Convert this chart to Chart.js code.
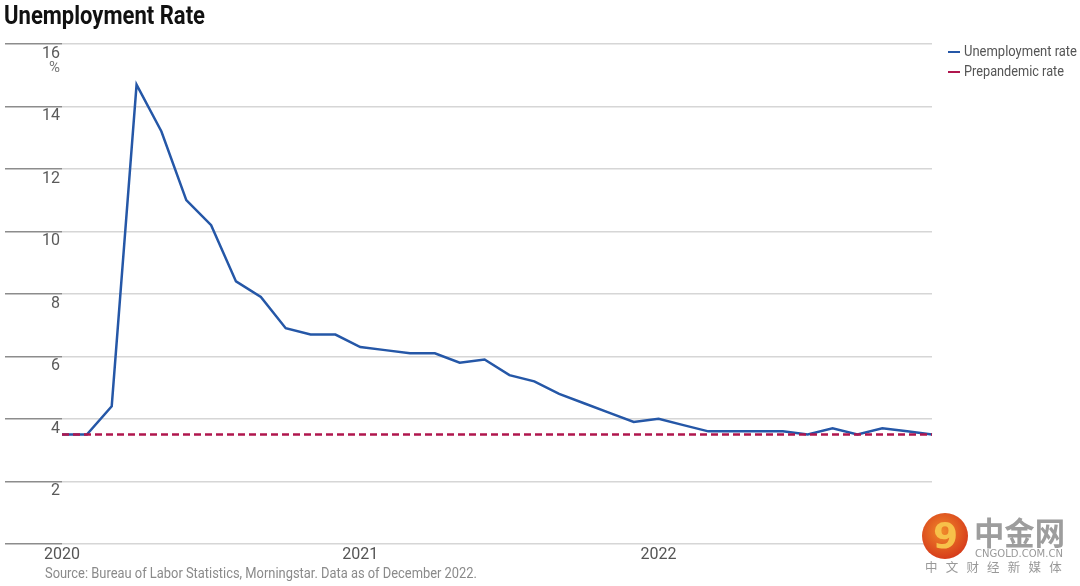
<!DOCTYPE html>
<html>
<head>
<meta charset="utf-8">
<script src="https://cdn.jsdelivr.net/npm/chart.js@4.4.1/dist/chart.umd.min.js"></script>
<style>
  html, body { margin: 0; padding: 0; background: #fff; }
  #wrap { position: relative; width: 1080px; height: 586px; overflow: hidden; font-family: Roboto, sans-serif; }
  #chart { position: absolute; left: 0; top: 0; }
  .fit { position: absolute; white-space: nowrap; transform-origin: 0 0; }
  #title { left: 4px; top: 0px; font-size: 26px; font-weight: bold; color: #111; }
  #source { left: 45px; top: 564px; font-size: 15.5px; color: #8a8a8a; }
  .leg { font-size: 15px; color: #555; }
  .sw { position: absolute; left: 948px; width: 12px; height: 2px; }
  #logo { position: absolute; left: 922px; top: 513px; width: 46px; height: 46px; border-radius: 50%;
          background: radial-gradient(circle at 45% 40%, #f08a2a, #d8401c 70%, #c42e16); }
  #logo span { position: absolute; left: 11px; top: 2px; font-size: 36px; font-weight: bold; color: #f7c14a; font-family: "DejaVu Sans", sans-serif; }
  #cn1 { left: 974px; top: 510px; font-size: 32px; font-weight: bold; color: #9d9d9d; font-family: "Noto Sans CJK SC", sans-serif; line-height: 42px; }
  #cn2 { left: 975px; top: 547px; font-size: 10.5px; color: #999; font-family: "DejaVu Sans", sans-serif; }
  #cn3 { left: 925px; top: 559px; font-size: 12.5px; color: #999; font-family: "Noto Sans CJK SC", sans-serif; letter-spacing: 8.2px; line-height: 16px; }
</style>
</head>
<body>
<div id="wrap">
  <canvas id="chart" width="1080" height="586"></canvas>
  <div id="title" class="fit" data-w="201">Unemployment Rate</div>
  <div class="sw" style="top:51px;background:#2557a7"></div>
  <div class="sw" style="top:71px;background:#b0164e"></div>
  <div class="fit leg" style="left:964px;top:42px" data-w="113">Unemployment rate</div>
  <div class="fit leg" style="left:964px;top:62px" data-w="100">Prepandemic rate</div>
  <div id="source" class="fit" data-w="432">Source: Bureau of Labor Statistics, Morningstar. Data as of December 2022.</div>
  <div id="logo"><span>9</span></div>
  <div id="cn1" class="fit" data-w="91">中金网</div>
  <div id="cn2" class="fit" data-w="88">CNGOLD.COM.CN</div>
  <div id="cn3" class="fit">中文财经新媒体</div>
</div>
<script>
// monthly, Jan 2020 - Dec 2022
const months = [
  '2020-01','2020-02','2020-03','2020-04','2020-05','2020-06','2020-07','2020-08','2020-09','2020-10','2020-11','2020-12',
  '2021-01','2021-02','2021-03','2021-04','2021-05','2021-06','2021-07','2021-08','2021-09','2021-10','2021-11','2021-12',
  '2022-01','2022-02','2022-03','2022-04','2022-05','2022-06','2022-07','2022-08','2022-09','2022-10','2022-11','2022-12'
];
const unemploymentRate = [
  3.5, 3.5, 4.4, 14.7, 13.2, 11.0, 10.2, 8.4, 7.9, 6.9, 6.7, 6.7,
  6.3, 6.2, 6.1, 6.1, 5.8, 5.9, 5.4, 5.2, 4.8, 4.5, 4.2, 3.9,
  4.0, 3.8, 3.6, 3.6, 3.6, 3.6, 3.5, 3.7, 3.5, 3.7, 3.6, 3.5
];
const prepandemicRate = [
  3.5, 3.5, 3.5, 3.5, 3.5, 3.5, 3.5, 3.5, 3.5, 3.5, 3.5, 3.5,
  3.5, 3.5, 3.5, 3.5, 3.5, 3.5, 3.5, 3.5, 3.5, 3.5, 3.5, 3.5,
  3.5, 3.5, 3.5, 3.5, 3.5, 3.5, 3.5, 3.5, 3.5, 3.5, 3.5, 3.5
];
const yTicks = [0, 2, 4, 6, 8, 10, 12, 14, 16];

const FONT = 'Roboto, sans-serif';

// squeeze html texts to the narrow widths of the original (condensed font not installed)
document.querySelectorAll('.fit[data-w]').forEach(el => {
  const w = el.getBoundingClientRect().width;
  el.style.transform = 'scaleX(' + (Number(el.dataset.w) / w) + ')';
});

// draws the "%" under the top tick label
const percentMark = {
  id: 'percentMark',
  afterDraw(chart) {
    const y = chart.scales.y;
    const ctx = chart.ctx;
    ctx.save();
    ctx.font = '15px ' + FONT;
    ctx.fillStyle = '#777';
    ctx.textAlign = 'right';
    ctx.textBaseline = 'middle';
    ctx.fillText('%', y.right - 2, y.getPixelForValue(16) + 24);
    ctx.restore();
  }
};

const ctx = document.getElementById('chart').getContext('2d');
new Chart(ctx, {
  type: 'line',
  data: {
    labels: months,
    datasets: [
      {
        label: 'Unemployment rate',
        data: unemploymentRate,
        borderColor: '#2557a7',
        borderWidth: 2.5,
        pointRadius: 0,
        tension: 0,
        order: 1
      },
      {
        label: 'Prepandemic rate',
        data: prepandemicRate,
        borderColor: '#b0164e',
        borderWidth: 2.5,
        borderDash: [7, 4],
        pointRadius: 0,
        tension: 0,
        order: 0
      }
    ]
  },
  options: {
    responsive: false,
    animation: false,
    layout: { padding: { left: 5, top: 44, right: 148, bottom: 19 } },
    plugins: { legend: { display: false }, tooltip: { enabled: false } },
    scales: {
      x: {
        grid: { display: false, drawTicks: false },
        border: { display: false },
        ticks: {
          autoSkip: false,
          maxRotation: 0,
          padding: 2,
          color: '#555',
          font: { family: FONT, size: 16 },
          callback: (v, i) => months[i].endsWith('-01') ? months[i].slice(0, 4) : ''
        },
        afterFit: (axis) => { axis.paddingLeft = 0; axis.paddingRight = 0; }
      },
      y: {
        min: 0,
        max: 16,
        afterBuildTicks: (axis) => { axis.ticks = yTicks.map(v => ({ value: v })); },
        grid: { color: '#d6d6d6', tickColor: '#8c8c8c', tickLength: 57, lineWidth: 1.5 },
        border: { display: false },
        ticks: {
          padding: -55,
          labelOffset: 10,
          color: '#5a5a5a',
          font: { family: FONT, size: 16 },
          callback: (v) => v === 0 ? '' : String(v)
        },
        afterFit: (axis) => { axis.width = 57; axis.paddingTop = 0; axis.paddingBottom = 0; }
      }
    }
  },
  plugins: [percentMark]
});
</script>
</body>
</html>
